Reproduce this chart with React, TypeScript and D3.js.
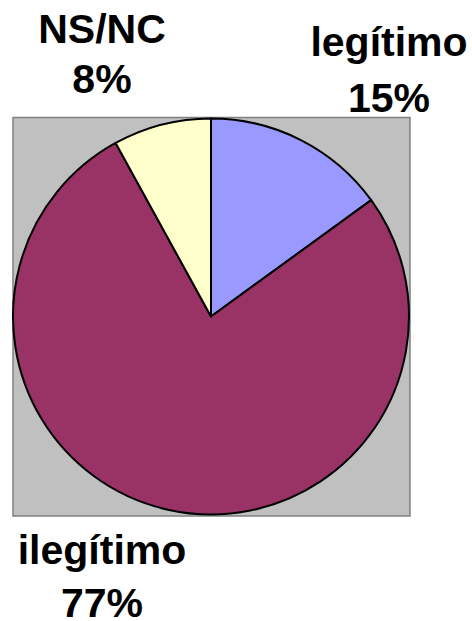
import React from "react";
import * as d3 from "d3";

const categories = ["legítimo", "ilegítimo", "NS/NC"];
const values = [15, 77, 8];
const colors = ["#9999FF", "#993366", "#FFFFCC"];
const labelPos: [number, number, number][] = [
  [389, 56, 56],
  [102, 564, 53],
  [102, 43, 50],
];

export default function App() {
  const W = 472, H = 621;
  const plot = { x: 13, y: 117.5, w: 397, h: 398.5 };
  const cx = 211, cy = 316.5, r = 198;
  const pie = d3.pie<number>().sort(null).value((d) => d)(values);
  const arc = d3.arc<d3.PieArcDatum<number>>().innerRadius(0).outerRadius(r);
  return (
    <svg width={W} height={H} style={{ position: "absolute", left: 0, top: 0 }}>
      <rect x={plot.x} y={plot.y} width={plot.w} height={plot.h} fill="#C0C0C0" stroke="#808080" strokeWidth={1.5} />
      <g transform={`translate(${cx},${cy})`}>
        {pie.map((p, i) => (
          <path key={i} d={arc(p) || ""} fill={colors[i]} stroke="#000" strokeWidth={2} strokeLinejoin="round" />
        ))}
      </g>
      {categories.map((c, i) => {
        const [x, y, dy] = labelPos[i];
        return (
          <text key={c} x={x} y={y} textAnchor="middle" fontFamily="Liberation Sans, Arial, sans-serif" fontWeight="bold" fontSize={41} fill="#000">
            <tspan x={x}>{c}</tspan>
            <tspan x={x} dy={dy}>{values[i]}%</tspan>
          </text>
        );
      })}
    </svg>
  );
}
